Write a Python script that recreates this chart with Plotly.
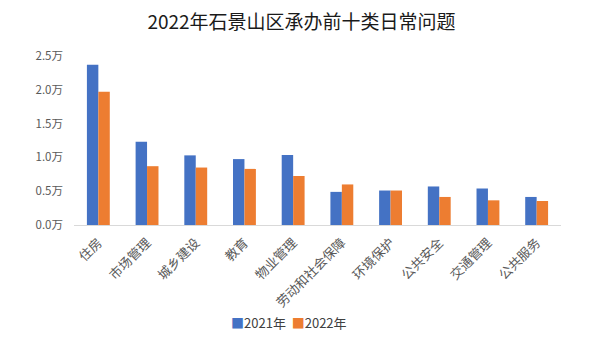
import plotly.graph_objects as go

categories = ["住房", "市场管理", "城乡建设", "教育", "物业管理",
              "劳动和社会保障", "环境保护", "公共安全", "交通管理", "公共服务"]
# values in units of 万 (10,000 cases)
values_2021 = [2.37, 1.23, 1.03, 0.975, 1.035, 0.49, 0.51, 0.57, 0.54, 0.415]
values_2022 = [1.97, 0.87, 0.85, 0.83, 0.725, 0.60, 0.51, 0.415, 0.365, 0.355]
y_ticks = [0, 0.5, 1.0, 1.5, 2.0, 2.5]
y_tick_text = [f"{v:.1f}万" for v in y_ticks]
series_names = ["2021年", "2022年"]
series_colors = ["#4472C4", "#ED7D31"]

FONT = "Noto Sans CJK SC"
fig = go.Figure()
for name, vals, color in zip(series_names, [values_2021, values_2022], series_colors):
    fig.add_trace(go.Bar(name=name, x=categories, y=vals,
                         marker=dict(color=color, line=dict(width=0))))

# compact legend below the axis
legend_text = "&nbsp;&nbsp;".join(
    f'<span style="color:{c}">■</span>{n}' for n, c in zip(series_names, series_colors))
fig.add_annotation(text=legend_text, xref="paper", yref="paper", x=0.4425, y=-0.578,
                   xanchor="center", yanchor="middle", showarrow=False,
                   font=dict(family=FONT, size=13, color="#404040"))

fig.update_layout(
    width=603, height=348,
    margin=dict(l=74, r=42, t=56, b=123),
    paper_bgcolor="white", plot_bgcolor="white",
    font=dict(family=FONT, color="#595959", size=12),
    title=dict(text="2022年石景山区承办前十类日常问题", x=0.5, xanchor="center",
               y=0.935, yanchor="middle",
               font=dict(family=FONT, size=19, color="#1a1a1a")),
    barmode="group", bargap=0.53, bargroupgap=0,
    showlegend=False,
    xaxis=dict(tickangle=-45, showgrid=False, showline=True, linecolor="#d9d9d9",
               linewidth=1, ticks="", ticklabelstandoff=4,
               tickfont=dict(size=13, color="#595959")),
    yaxis=dict(range=[0, 2.5], tickvals=y_ticks, ticktext=y_tick_text,
               showgrid=False, zeroline=False, showline=False, ticks="",
               ticklabelstandoff=10,
               tickfont=dict(size=11.5, color="#595959")),
)

fig.write_html("out.html")
